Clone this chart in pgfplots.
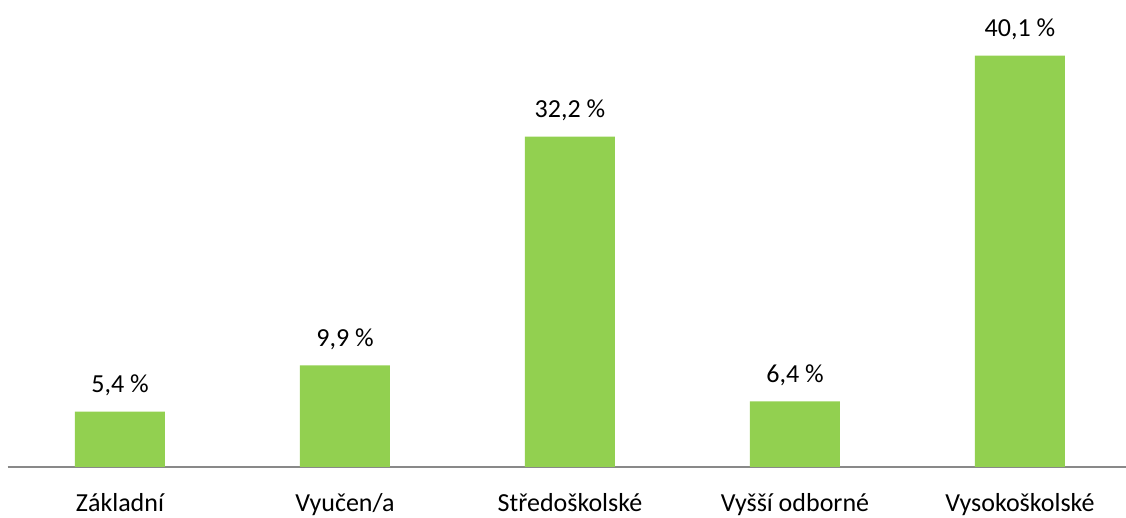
\documentclass[border=0pt]{standalone}
\usepackage{fontspec}
\setmainfont{Carlito}
\usepackage{pgfplots}
\pgfplotsset{compat=1.18}
\definecolor{bargreen}{HTML}{92D050}
\definecolor{axisgrey}{HTML}{898989}
\begin{document}
\begin{tikzpicture}
\useasboundingbox (0,0) rectangle (1126pt,518pt);
\begin{axis}[
  at={(7.5pt,51pt)}, anchor=south west,
  scale only axis,
  width=1125pt, height=461.7pt,
  xmin=-0.5, xmax=4.5, ymin=0, ymax=45,
  axis x line*=bottom,
  axis y line=none,
  x axis line style={axisgrey, line width=1.6pt, -},
  xtick={0,1,2,3,4},
  xticklabels={Základní, Vyučen/a, Středoškolské, Vyšší odborné, Vysokoškolské},
  major tick length=0pt,
  xticklabel style={anchor=base, yshift=-45pt, font=\fontsize{26}{31}\selectfont},
  ybar, bar width=90pt,
  clip=false,
  point meta=explicit symbolic,
  nodes near coords,
  every node near coord/.append style={anchor=base, yshift=19pt, font=\fontsize{26}{31}\selectfont, inner sep=0pt},
]
\addplot[fill=bargreen, draw=none, bar shift=0pt] coordinates {
  (0,5.4) [5,4 \%]
  (1,9.9) [9,9 \%]
  (2,32.2) [32,2 \%]
  (3,6.4) [6,4 \%]
  (4,40.1) [40,1 \%]
};
\end{axis}
\end{tikzpicture}
\end{document}
